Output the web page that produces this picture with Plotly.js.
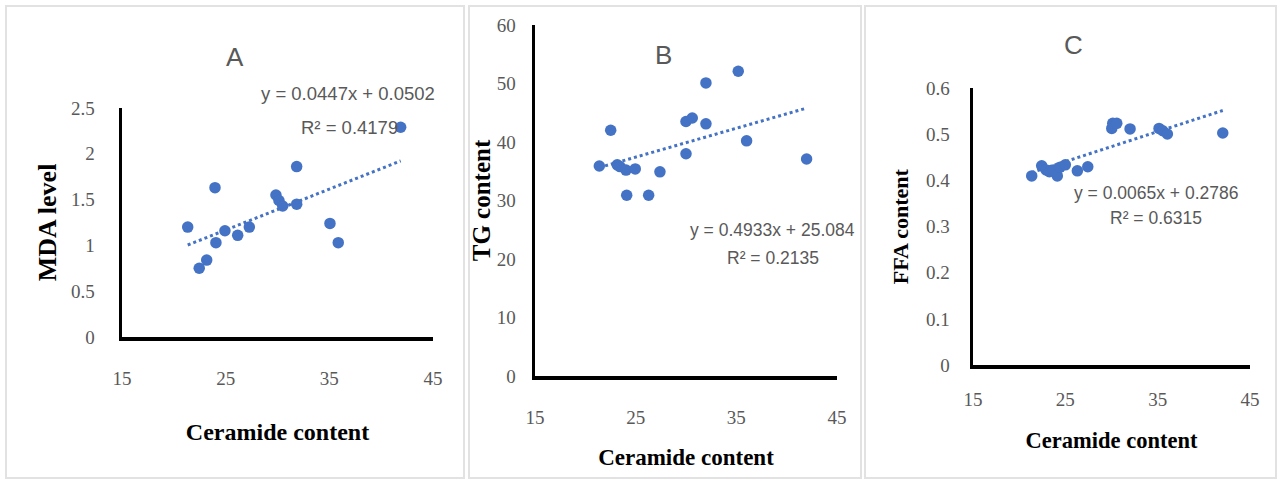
<!DOCTYPE html>
<html><head><meta charset="utf-8">
<script src="https://cdn.plot.ly/plotly-3.0.1.min.js"></script>
<style>html,body{margin:0;padding:0;background:#fff;} #chart{width:1277px;height:479px;}</style>
</head><body><div id="chart"></div>
<script>
// Panel A: MDA level vs ceramide content
const mdaCeramide = [21.34, 22.45, 23.17, 23.97, 24.06, 24.93, 26.16, 27.28, 29.85, 30.14, 30.50, 31.85, 31.85, 35.06, 35.86, 41.88];
const mdaLevel    = [1.20, 0.75, 0.84, 1.63, 1.03, 1.16, 1.11, 1.20, 1.55, 1.49, 1.43, 1.45, 1.86, 1.24, 1.03, 2.29];
const mdaFit = {slope: 0.0447, intercept: 0.0502, r2: '0.4179'};

// Panel B: TG content vs ceramide content
const tgCeramide = [21.39, 22.52, 23.17, 23.44, 24.04, 24.11, 24.96, 26.29, 27.41, 30.00, 30.00, 30.62, 31.98, 31.98, 35.19, 36.02, 41.98];
const tgContent  = [35.9, 42.0, 36.1, 35.8, 35.2, 30.9, 35.4, 30.9, 34.9, 38.0, 43.5, 44.1, 50.1, 43.1, 52.1, 40.2, 37.1];
const tgFit = {slope: 0.4933, intercept: 25.084, r2: '0.2135'};

// Panel C: FFA content vs ceramide content
const ffaCeramide = [21.36, 22.44, 22.91, 23.27, 23.70, 24.13, 24.43, 25.00, 26.30, 27.43, 30.03, 30.14, 30.57, 32.01, 35.15, 35.55, 36.05, 42.05];
const ffaContent  = [0.410, 0.432, 0.423, 0.419, 0.423, 0.410, 0.429, 0.434, 0.421, 0.430, 0.513, 0.524, 0.524, 0.512, 0.513, 0.508, 0.501, 0.503];
const ffaFit = {slope: 0.0065, intercept: 0.2786, r2: '0.6315'};

const xTickVals = [15, 25, 35, 45];

const BLUE = '#4472C4';
const GRAY = '#595959';
const W = 1277, H = 479;
const px = v => v / W;
const py = v => 1 - v / H;

function scatter(x, y, xa, ya) {
  return {x: x, y: y, xaxis: xa, yaxis: ya, type: 'scatter', mode: 'markers',
    marker: {color: BLUE, size: 11.5}, showlegend: false, hoverinfo: 'x+y'};
}
function trend(x, fit, xa, ya) {
  const lo = Math.min(...x), hi = Math.max(...x);
  return {x: [lo, hi], y: [fit.slope * lo + fit.intercept, fit.slope * hi + fit.intercept],
    xaxis: xa, yaxis: ya, type: 'scatter', mode: 'lines',
    line: {color: BLUE, width: 3, dash: 'dot'}, showlegend: false, hoverinfo: 'skip'};
}
function eqText(fit) {
  return 'y = ' + fit.slope + 'x + ' + fit.intercept;
}

const data = [
  trend(mdaCeramide, mdaFit, 'x', 'y'),
  scatter(mdaCeramide, mdaLevel, 'x', 'y'),
  trend(tgCeramide, tgFit, 'x2', 'y2'),
  scatter(tgCeramide, tgContent, 'x2', 'y2'),
  trend(ffaCeramide, ffaFit, 'x3', 'y3'),
  scatter(ffaCeramide, ffaContent, 'x3', 'y3')
];

const tickFont = {family: 'Liberation Serif, Times New Roman, serif', size: 19, color: GRAY};
const titleFont = (s) => ({family: 'Liberation Serif, Times New Roman, serif', size: s, color: '#000', weight: 'bold'});

function xAxis(domain, anchor, titleSize, standoff, labelStand) {
  return {domain: domain, anchor: anchor, range: [15, 45], tickvals: xTickVals, showgrid: false, zeroline: false,
    showline: true, linecolor: '#000', linewidth: 3.5, ticks: '', tickfont: tickFont, ticklabelstandoff: labelStand,
    title: {text: '<b>Ceramide content</b>', font: titleFont(titleSize), standoff: standoff}, fixedrange: true};
}
function yAxis(domain, anchor, range, dtick, text, titleSize, standoff, labelStand) {
  return {domain: domain, anchor: anchor, range: range, dtick: dtick, tick0: 0, showgrid: false, zeroline: false,
    showline: true, linecolor: '#000', linewidth: 3.5, ticks: '', tickfont: tickFont, ticklabelstandoff: labelStand,
    title: {text: '<b>' + text + '</b>', font: titleFont(titleSize), standoff: standoff}, fixedrange: true};
}

const eqFont = (s) => ({family: 'Liberation Sans, Arial, sans-serif', size: s, color: GRAY});
const panelFont = {family: 'Liberation Sans, Arial, sans-serif', size: 26, color: GRAY};

function ann(text, x, y, font) {
  return {text: text, x: px(x), y: py(y), xref: 'paper', yref: 'paper', xanchor: 'center', yanchor: 'middle',
    showarrow: false, font: font};
}

const frame = (x0, x1) => ({type: 'rect', xref: 'paper', yref: 'paper', x0: px(x0), x1: px(x1), y0: py(478), y1: py(6),
  line: {color: '#e2e2e2', width: 2}, fillcolor: 'rgba(0,0,0,0)', layer: 'below'});

const layout = {
  width: W, height: H,
  margin: {l: 0, r: 0, t: 0, b: 0},
  paper_bgcolor: '#fff', plot_bgcolor: '#fff',
  showlegend: false,
  xaxis:  xAxis([px(122), px(433)], 'y', 24, 36, 22),
  yaxis:  yAxis([py(337), py(108)], 'x', [0, 2.5], 0.5, 'MDA level', 26, 8, 20),
  xaxis2: xAxis([px(535), px(837)], 'y2', 23, 22, 22),
  yaxis2: yAxis([py(376), py(25)], 'x2', [0, 60], 10, 'TG content', 25, 0, 12),
  xaxis3: xAxis([px(973), px(1250)], 'y3', 22.5, 24, 15),
  yaxis3: yAxis([py(365), py(88.3)], 'x3', [0, 0.6], 0.1, 'FFA content', 22, 12, 16),
  annotations: [
    ann('A', 235, 57, panelFont),
    ann('B', 663, 55, panelFont),
    ann('C', 1073, 45, panelFont),
    ann(eqText(mdaFit), 348, 93, eqFont(18.5)),
    ann('R² = ' + mdaFit.r2, 349, 127, eqFont(18.5)),
    ann(eqText(tgFit), 772, 230, eqFont(17.5)),
    ann('R² = ' + tgFit.r2, 773, 258, eqFont(17.5)),
    ann(eqText(ffaFit), 1156, 193, eqFont(17.5)),
    ann('R² = ' + ffaFit.r2, 1156, 218, eqFont(17.5))
  ],
  shapes: [frame(6, 464), frame(469, 861), frame(865, 1276)]
};

Plotly.newPlot('chart', data, layout, {displayModeBar: false, staticPlot: true});
</script>
</body></html>
